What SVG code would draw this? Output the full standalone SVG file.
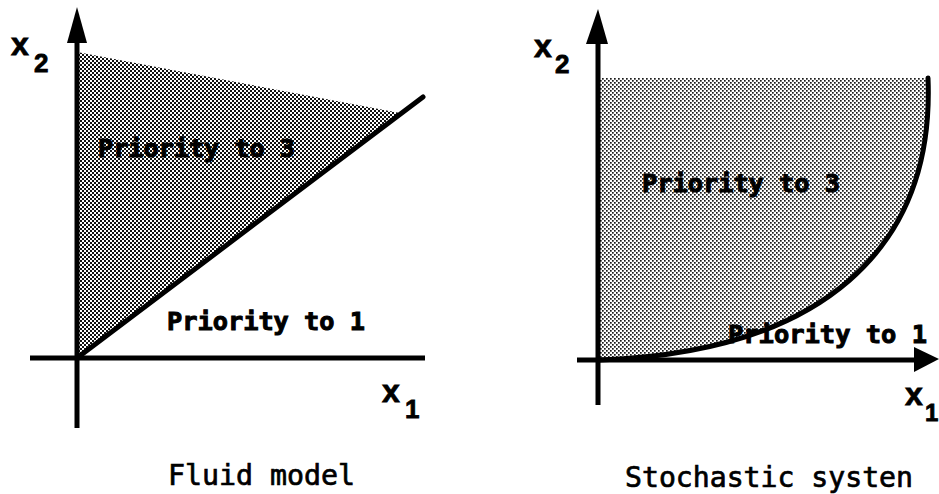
<svg xmlns="http://www.w3.org/2000/svg" width="939" height="494" viewBox="0 0 939 494">
<defs>
<pattern id="dotsDark" width="4" height="4" patternUnits="userSpaceOnUse">
<rect width="4" height="4" fill="#ffffff"/>
<rect x="0" y="0" width="2" height="2" fill="#111"/>
<rect x="2" y="2" width="2" height="2" fill="#111"/>
</pattern>
<pattern id="dotsLight" width="4" height="4" patternUnits="userSpaceOnUse">
<rect width="4" height="4" fill="#ffffff"/>
<rect x="0" y="0" width="1.7" height="1.7" fill="#1a1a1a"/>
<rect x="2" y="2" width="1.7" height="1.7" fill="#1a1a1a"/>
</pattern>
</defs>
<style>
.axis{stroke:#000;stroke-width:5;fill:none}
.curve{stroke:#000;stroke-width:5;fill:none;stroke-linecap:round}
.head{fill:#000}
.var{font-family:"Liberation Sans",Arial,sans-serif;font-weight:bold;fill:#000;stroke:#000;stroke-width:0.8}
.lab{font-family:"DejaVu Sans Mono","Liberation Mono",monospace;font-weight:bold;font-size:25px;fill:#000;stroke:#000;stroke-width:1}
.cap{font-family:"DejaVu Sans Mono","Liberation Mono",monospace;font-size:28px;fill:#000;stroke:#000;stroke-width:0.7}
</style>
<rect width="939" height="494" fill="#fff"/>

<g id="fluid-model">
<g id="fluid-region-3">
<polygon points="77,52 400,113 77,358" fill="url(#dotsDark)"/>
<text class="lab" x="98" y="157" textLength="197" lengthAdjust="spacingAndGlyphs">Priority to 3</text>
</g>
<g id="fluid-region-1">
<text class="lab" x="167" y="330" textLength="198" lengthAdjust="spacingAndGlyphs">Priority to 1</text>
</g>
<g id="fluid-axes">
<line class="axis" x1="77" y1="38" x2="77" y2="428"/>
<polygon class="head" points="77,7 67,43 87,43"/>
<line class="axis" x1="30" y1="358" x2="425" y2="358"/>
<text class="var" x="11" y="55" font-size="32">x</text>
<text class="var" x="34" y="72" font-size="26">2</text>
<text class="var" x="382" y="402" font-size="32">x</text>
<text class="var" x="405" y="418" font-size="26">1</text>
</g>
<g id="fluid-boundary">
<line class="curve" x1="77" y1="358" x2="423" y2="97"/>
</g>
<text class="cap" x="168" y="485" textLength="187" lengthAdjust="spacingAndGlyphs">Fluid model</text>
</g>

<g id="stochastic-system">
<g id="stoch-region-3">
<path d="M598,78 L928,78 C935,250 820,352 600,360 Z" fill="url(#dotsLight)"/>
<text class="lab" x="642" y="192" textLength="198" lengthAdjust="spacingAndGlyphs">Priority to 3</text>
</g>
<g id="stoch-axes">
<line class="axis" x1="598" y1="38" x2="598" y2="405"/>
<polygon class="head" points="598,9 586,44 608,44"/>
<line class="axis" x1="577" y1="360" x2="918" y2="360"/>
<polygon class="head" points="914,347 939,359 914,372"/>
<text class="var" x="905" y="405" font-size="32">x</text>
<text class="var" x="925" y="421" font-size="24">1</text>
<text class="var" x="534" y="57" font-size="32">x</text>
<text class="var" x="555" y="73" font-size="26">2</text>
</g>
<g id="stoch-boundary">
<path class="curve" d="M600,360 C820,352 935,250 928,78"/>
</g>
<g id="stoch-region-1">
<text class="lab" x="728" y="343" textLength="199" lengthAdjust="spacingAndGlyphs">Priority to 1</text>
</g>
<text class="cap" x="625" y="487" textLength="288" lengthAdjust="spacingAndGlyphs">Stochastic systen</text>
</g>
</svg>
